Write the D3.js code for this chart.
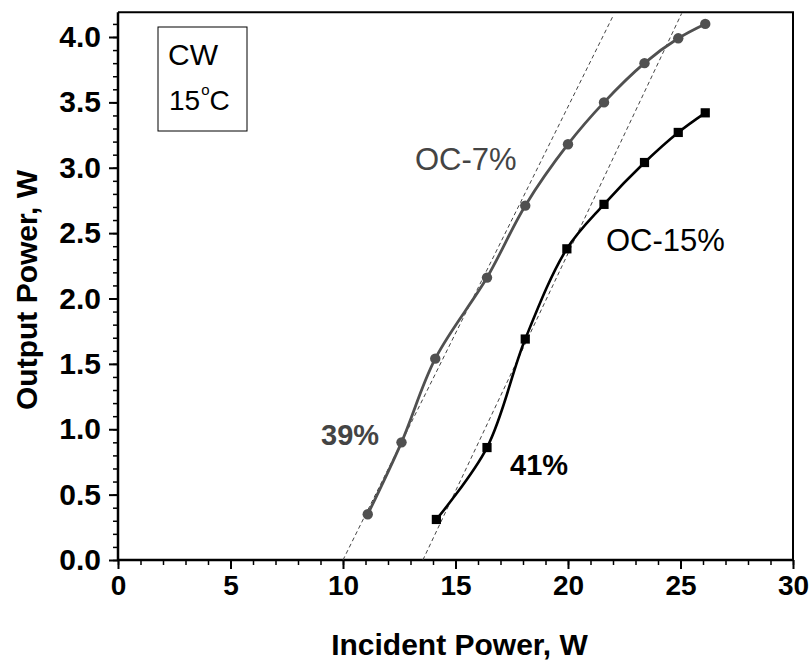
<!DOCTYPE html>
<html>
<head>
<meta charset="utf-8">
<script src="https://cdn.jsdelivr.net/npm/d3@7"></script>
<style>
  html, body { margin: 0; padding: 0; background: #fff; }
  svg { display: block; font-family: "Liberation Sans", Arial, sans-serif; }
</style>
</head>
<body>
<svg id="chart" width="810" height="660"></svg>
<script>
// Laser output vs incident pump power for two output couplers
const oc7Incident  = [11.1, 12.6, 14.1, 16.4, 18.1, 20.0, 21.6, 23.4, 24.9, 26.1];
const oc7Output    = [0.35, 0.90, 1.54, 2.16, 2.71, 3.18, 3.50, 3.80, 3.99, 4.10];
const oc15Incident = [14.15, 16.4, 18.1, 19.95, 21.6, 23.4, 24.9, 26.1];
const oc15Output   = [0.31, 0.86, 1.69, 2.38, 2.72, 3.04, 3.27, 3.42];

// Linear fits (start and end points in data units)
const oc7FitX  = [10.0, 22.0];
const oc7FitY  = [0.0, 4.16];
const oc15FitX = [13.55, 25.05];
const oc15FitY = [0.0, 4.18];

const xTicks = [0, 5, 10, 15, 20, 25, 30];
const yTicks = [0.0, 0.5, 1.0, 1.5, 2.0, 2.5, 3.0, 3.5, 4.0];

const svg = d3.select("#chart");
const left = 118, right = 793, bottom = 560;
const x = d3.scaleLinear().domain([0, 30]).range([left, right]);
const y = d3.scaleLinear().domain([0, 4.0]).range([bottom, 37]);
const plotTop = y(4.19);

const gray = "#505050";
const font = "'Liberation Sans', Arial, sans-serif";

// clip for plot area
svg.append("defs").append("clipPath").attr("id", "plotClip")
  .append("rect").attr("x", left).attr("y", plotTop)
  .attr("width", right - left).attr("height", bottom - plotTop);

// frame (top and right)
svg.append("path")
  .attr("d", `M${left},${plotTop}H${right}V${bottom}`)
  .attr("fill", "none").attr("stroke", "#000").attr("stroke-width", 2);

// x axis
const xMinor = d3.range(0, 31, 1);
const gx = svg.append("g").attr("transform", `translate(0,${bottom})`);
gx.call(d3.axisBottom(x).tickValues(xMinor).tickSize(5).tickFormat(""))
  .call(g => g.select(".domain").remove())
  .call(g => g.selectAll("line").attr("stroke-width", 1.5));
gx.append("g").call(d3.axisBottom(x).tickValues(xTicks).tickSize(9).tickPadding(6)
    .tickFormat(d3.format("d")))
  .call(g => g.select(".domain").remove())
  .call(g => g.selectAll("line").attr("stroke-width", 2))
  .call(g => g.selectAll("text").attr("font-size", 28).attr("font-weight", "bold")
    .attr("fill", "#000").attr("font-family", font));
gx.append("line").attr("x1", left).attr("x2", right).attr("stroke", "#000").attr("stroke-width", 2.5);

// y axis
const yMinor = d3.range(0, 4.15, 0.1);
const gy = svg.append("g").attr("transform", `translate(${left},0)`);
gy.call(d3.axisLeft(y).tickValues(yMinor).tickSize(5).tickFormat(""))
  .call(g => g.select(".domain").remove())
  .call(g => g.selectAll("line").attr("stroke-width", 1.5));
gy.append("g").call(d3.axisLeft(y).tickValues(yTicks).tickSize(9).tickPadding(8)
    .tickFormat(d3.format(".1f")))
  .call(g => g.select(".domain").remove())
  .call(g => g.selectAll("line").attr("stroke-width", 2))
  .call(g => g.selectAll("text").attr("font-size", 30).attr("font-weight", "bold")
    .attr("fill", "#000").attr("font-family", font));
gy.append("line").attr("y1", plotTop).attr("y2", bottom).attr("stroke", "#000").attr("stroke-width", 2.5);

// axis titles
svg.append("text").attr("x", (left + right) / 2 + 4).attr("y", 655)
  .attr("text-anchor", "middle").attr("font-size", 30).attr("font-weight", "bold")
  .text("Incident Power, W");
svg.append("text").attr("transform", `translate(37,290) rotate(-90)`)
  .attr("text-anchor", "middle").attr("font-size", 30).attr("font-weight", "bold")
  .text("Output Power, W");

const plot = svg.append("g").attr("clip-path", "url(#plotClip)");

// fit lines
const fitLine = d3.line().x(d => x(d[0])).y(d => y(d[1]));
[[oc7FitX, oc7FitY], [oc15FitX, oc15FitY]].forEach(([fx, fy]) => {
  plot.append("path").datum(d3.zip(fx, fy))
    .attr("d", fitLine).attr("fill", "none")
    .attr("stroke", "#444").attr("stroke-width", 1).attr("stroke-dasharray", "4,3");
});

// data curves
const curve = d3.line().x(d => x(d[0])).y(d => y(d[1])).curve(d3.curveCatmullRom.alpha(0.5));
const oc7 = d3.zip(oc7Incident, oc7Output);
const oc15 = d3.zip(oc15Incident, oc15Output);

plot.append("path").datum(oc7).attr("d", curve)
  .attr("fill", "none").attr("stroke", gray).attr("stroke-width", 2.8);
plot.append("path").datum(oc15).attr("d", curve)
  .attr("fill", "none").attr("stroke", "#000").attr("stroke-width", 2.6);

plot.selectAll("circle.oc7").data(oc7).join("circle")
  .attr("class", "oc7").attr("cx", d => x(d[0])).attr("cy", d => y(d[1]))
  .attr("r", 5.2).attr("fill", gray);
plot.selectAll("rect.oc15").data(oc15).join("rect")
  .attr("class", "oc15").attr("x", d => x(d[0]) - 4.6).attr("y", d => y(d[1]) - 4.6)
  .attr("width", 9.2).attr("height", 9.2).attr("fill", "#000");

// annotations
svg.append("text").attr("x", 415).attr("y", 170).attr("font-size", 31)
  .attr("fill", "#444").text("OC-7%");
svg.append("text").attr("x", 606).attr("y", 251).attr("font-size", 31)
  .attr("fill", "#000").text("OC-15%");
svg.append("text").attr("x", 321).attr("y", 445).attr("font-size", 29)
  .attr("font-weight", "bold").attr("fill", "#444").text("39%");
svg.append("text").attr("x", 510).attr("y", 475).attr("font-size", 29)
  .attr("font-weight", "bold").attr("fill", "#000").text("41%");

// condition box
svg.append("rect").attr("x", 158).attr("y", 27).attr("width", 89).attr("height", 104)
  .attr("fill", "#fff").attr("stroke", "#000").attr("stroke-width", 1);
svg.append("text").attr("x", 168).attr("y", 65).attr("font-size", 30).text("CW");
const t = svg.append("text").attr("x", 169).attr("y", 110).attr("font-size", 28);
t.append("tspan").text("15");
t.append("tspan").attr("font-size", 15).attr("dy", -15).attr("dx", 1).text("o");
t.append("tspan").attr("dy", 15).text("C");
</script>
</body>
</html>
